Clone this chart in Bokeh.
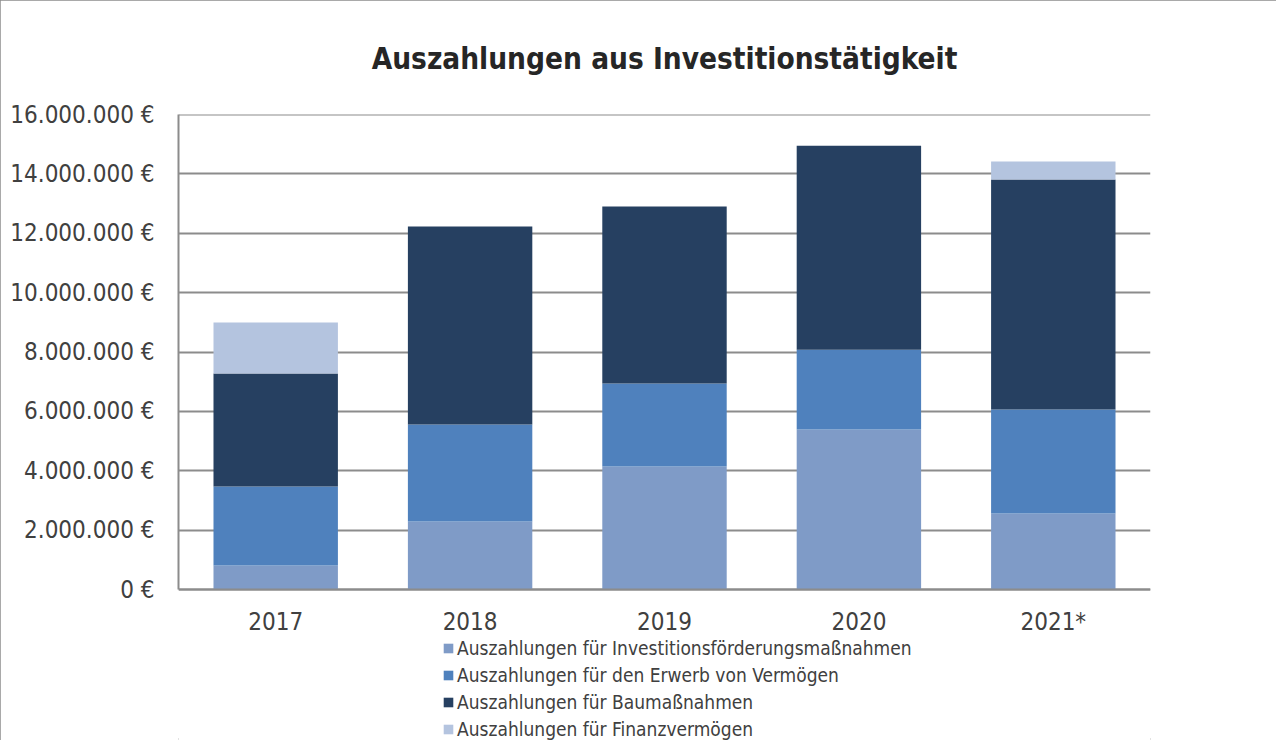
from bokeh.plotting import figure
from bokeh.models import (FactorRange, Range1d, FixedTicker, CustomJSTickFormatter,
                          Legend, LegendItem, ColumnDataSource, Span)
from bokeh.embed import file_html
from bokeh.resources import INLINE

years = ["2017", "2018", "2019", "2020", "2021*"]
foerder = [810000, 2290000, 4140000, 5390000, 2560000]
erwerb = [2660000, 3270000, 2800000, 2690000, 3500000]
bau = [3810000, 6670000, 5960000, 6870000, 7750000]
finanz = [1710000, 0, 0, 0, 610000]
y_ticks = [0, 2000000, 4000000, 6000000, 8000000, 10000000, 12000000, 14000000, 16000000]

series_keys = ["foerder", "erwerb", "bau", "finanz"]
series_labels = [
    "Auszahlungen für Investitionsförderungsmaßnahmen",
    "Auszahlungen für den Erwerb von Vermögen",
    "Auszahlungen für Baumaßnahmen",
    "Auszahlungen für Finanzvermögen",
]
colors = ["#7F9BC7", "#4F81BD", "#264061", "#B4C4DF"]

FONT = "DejaVu Sans Condensed, Liberation Sans, sans-serif"

# layout: value axis occupies 475 px, extra 151 px of frame below zero hold labels + legend
AXIS_PX = 475
BELOW_PX = 151
y_lo = -y_ticks[-1] * BELOW_PX / AXIS_PX

source = ColumnDataSource(dict(years=years, foerder=foerder, erwerb=erwerb, bau=bau, finanz=finanz))

p = figure(frame_width=972, frame_height=AXIS_PX + BELOW_PX,
           x_range=FactorRange(*years), y_range=Range1d(y_lo, y_ticks[-1]),
           output_backend="svg", toolbar_location=None,
           title="Auszahlungen aus Investitionstätigkeit",
           min_border_left=178, min_border_right=126, min_border_top=114, min_border_bottom=0)
p.styles = {"outline": "2px solid #8c8c8c", "outline-offset": "-2px"}

renderers = p.vbar_stack(series_keys, x="years", width=0.64, color=colors, source=source,
                         line_color=None)

p.title.align = "center"
p.title.text_font = FONT
p.title.text_font_size = "29.5px"
p.title.text_font_style = "bold"
p.title.text_color = "#262626"
p.title.standoff = 77

p.outline_line_color = None
p.xgrid.grid_line_color = None
p.ygrid.grid_line_color = "#8c8c8c"
p.ygrid.grid_line_width = 2
p.ygrid.ticker = FixedTicker(ticks=y_ticks)
p.add_layout(Span(location=y_ticks[-1], dimension="width", line_color="#8c8c8c", line_width=2))

p.yaxis.ticker = FixedTicker(ticks=y_ticks)
p.yaxis.bounds = (y_ticks[0], y_ticks[-1])
p.yaxis.formatter = CustomJSTickFormatter(code="""
var s = Math.round(tick).toString().replace(/\\B(?=(\\d{3})+(?!\\d))/g, ".");
return s + " \u20ac";
""")
p.yaxis.axis_line_color = "#8c8c8c"
p.yaxis.axis_line_width = 2
p.yaxis.major_tick_line_color = None
p.yaxis.minor_tick_line_color = None
p.yaxis.major_label_text_font = FONT
p.yaxis.major_label_text_font_size = "24px"
p.yaxis.major_label_text_color = "#404040"
p.yaxis.major_label_standoff = 18

p.xaxis.fixed_location = y_ticks[0]
p.xaxis.axis_line_color = "#8c8c8c"
p.xaxis.axis_line_width = 2
p.xaxis.major_tick_line_color = None
p.xaxis.minor_tick_line_color = None
p.xaxis.major_label_text_font = FONT
p.xaxis.major_label_text_font_size = "24px"
p.xaxis.major_label_text_color = "#404040"
p.xaxis.major_label_standoff = 12

items = [LegendItem(label=lab, renderers=[r]) for lab, r in zip(series_labels, renderers)]
legend = Legend(items=items, location=(264, 0), orientation="vertical",
                label_text_font=FONT, label_text_font_size="19px", label_text_color="#404040",
                glyph_width=12, glyph_height=12, label_standoff=3, label_height=21,
                spacing=5, padding=0, margin=0, border_line_color=None,
                background_fill_alpha=0)
p.add_layout(legend, "center")

open("out.html", "w").write(file_html(p, INLINE))
